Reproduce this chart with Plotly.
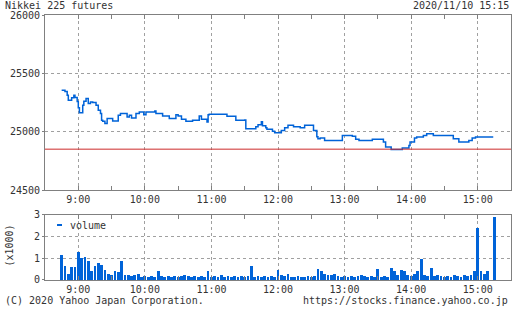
import plotly.graph_objects as go
import pandas as pd

DAY = "2020-11-10 "

# Price (step line) - time, price
price_times = ["08:45", "08:48", "08:50", "08:51", "08:54", "08:56", "08:57", "08:59", "09:00", "09:01",
               "09:04", "09:05", "09:07", "09:09", "09:11", "09:13", "09:16", "09:18", "09:20", "09:21",
               "09:22", "09:24", "09:26", "09:31", "09:36", "09:38", "09:44", "09:46", "09:48", "09:52",
               "09:55", "09:59", "10:01", "10:09", "10:10", "10:16", "10:22", "10:28", "10:30", "10:33",
               "10:37", "10:43", "10:49", "10:51", "10:56", "10:57", "10:58", "11:14", "11:22", "11:30",
               "11:31", "11:40", "11:42", "11:45", "11:46", "11:49", "11:50", "11:55", "11:57", "12:03",
               "12:06", "12:09", "12:14", "12:20", "12:24", "12:32", "12:35", "12:36", "12:38", "12:42",
               "12:58", "13:07", "13:10", "13:13", "13:25", "13:35", "13:37", "13:42", "13:52", "13:58",
               "13:59", "14:03", "14:05", "14:11", "14:14", "14:20", "14:38", "14:43", "14:52", "14:55",
               "14:58", "15:14"]
price_values = [25355, 25344, 25312, 25269, 25290, 25312, 25292, 25258, 25206, 25163,
                25226, 25261, 25284, 25241, 25255, 25250, 25226, 25183, 25155, 25097,
                25089, 25069, 25112, 25092, 25140, 25155, 25126, 25140, 25118, 25155,
                25169, 25146, 25169, 25178, 25155, 25135, 25112, 25146, 25135, 25106,
                25089, 25097, 25135, 25106, 25083, 25146, 25150, 25133, 25097, 25100,
                25026, 25043, 25060, 25086, 25050, 25034, 25020, 25003, 24991, 25010,
                25034, 25054, 25043, 25034, 25054, 25011, 24957, 24940, 24945, 24925,
                24968, 24960, 24934, 24925, 24934, 24911, 24868, 24848, 24860, 24882,
                24911, 24946, 24954, 24968, 24983, 24968, 24940, 24911, 24925, 24946,
                24954, 24954]

prev_close = 24850

# Volume (x1000), 3-minute buckets from 08:45 to 15:15
volume_values = [
    1.14, 0.63, 0.30, 0.60, 0.58, 1.27, 1.00, 1.08, 0.87, 0.40,
    0.63, 0.80, 0.67, 0.48, 0.30, 0.25, 0.40, 0.36, 0.87, 0.22,
    0.25, 0.20, 0.22, 0.30, 0.15, 0.18, 0.15, 0.20, 0.15, 0.43,
    0.20, 0.15, 0.20, 0.15, 0.18, 0.15, 0.20, 0.25, 0.20, 0.15,
    0.18, 0.15, 0.20, 0.15, 0.43, 0.15, 0.20, 0.15, 0.25, 0.15,
    0.18, 0.15, 0.20, 0.15, 0.18, 0.15, 0.20, 0.63, 0.15, 0.20,
    0.15, 0.18, 0.15, 0.20, 0.15, 0.48, 0.25, 0.20, 0.30, 0.15,
    0.15, 0.18, 0.15, 0.15, 0.20, 0.15, 0.18, 0.52, 0.40, 0.30,
    0.25, 0.25, 0.30, 0.20, 0.15, 0.20, 0.15, 0.20, 0.15, 0.20,
    0.25, 0.20, 0.15, 0.20, 0.15, 0.52, 0.15, 0.20, 0.15, 0.55,
    0.43, 0.25, 0.48, 0.40, 0.25, 0.20, 0.30, 0.43, 0.95, 0.25,
    0.20, 0.55, 0.20, 0.25, 0.20, 0.15, 0.20, 0.15, 0.25, 0.20,
    0.15, 0.25, 0.20, 0.25, 0.40, 2.38, 0.40, 0.30, 0.40, 0.00,
    2.90]
volume_times = pd.date_range(DAY + "08:45", periods=len(volume_values), freq="3min")

title_text = "Nikkei 225 futures"
stamp_text = "2020/11/10 15:15"
copy_text = "(C) 2020 Yahoo Japan Corporation."
url_text = "https://stocks.finance.yahoo.co.jp"

FONT = "DejaVu Sans Mono"
TXT = "#333333"
BLUE = "#0063d8"
FRAME = "#808080"
GRID = "#a0a0a0"

fig = go.Figure()
fig.add_trace(go.Scatter(
    x=[DAY + t for t in price_times], y=price_values, mode="lines",
    line=dict(color=BLUE, width=1.5, shape="hv"), showlegend=False,
    xaxis="x", yaxis="y"))
fig.add_trace(go.Bar(
    x=volume_times, y=volume_values, width=150000,
    marker=dict(color=BLUE, line=dict(width=0)), showlegend=False,
    xaxis="x2", yaxis="y2"))

xr = [DAY + "08:30", DAY + "15:30"]
xcommon = dict(type="date", range=xr, tickformat="%-H:%M", dtick=3600000,
               tick0=DAY + "09:00", showgrid=True, gridcolor=GRID, griddash="3px,3px",
               gridwidth=1, showline=True, linecolor=FRAME, linewidth=1, mirror="ticks",
               ticks="inside", ticklen=4, tickcolor=FRAME,
               minor=dict(dtick=1800000, ticks="inside", ticklen=4, tickcolor=FRAME, showgrid=False),
               tickfont=dict(family=FONT, size=10, color=TXT), zeroline=False, fixedrange=True)
ycommon = dict(showgrid=True, gridcolor=GRID, griddash="3px,3px", gridwidth=1,
               showline=True, linecolor=FRAME, linewidth=1, mirror=True,
               ticks="outside", ticklen=2, tickcolor=FRAME, tickformat="d",
               tickfont=dict(family=FONT, size=10, color=TXT), zeroline=False)

fig.update_layout(
    width=512, height=310,
    margin=dict(l=45, r=1, t=15, b=30),
    paper_bgcolor="white", plot_bgcolor="white",
    xaxis=dict(domain=[0, 1], anchor="y", **xcommon),
    yaxis=dict(domain=[0.3396, 1], range=[24500, 26000], dtick=500, anchor="x", **ycommon),
    xaxis2=dict(domain=[0, 1], anchor="y2", **xcommon),
    yaxis2=dict(domain=[0, 0.2453], range=[0, 3], dtick=1, anchor="x2", **ycommon),
    bargap=0,
    shapes=[
        dict(type="line", xref="x", yref="y", x0=xr[0], x1=xr[1], y0=prev_close, y1=prev_close,
             line=dict(color="#cc2a2a", width=1)),
        dict(type="line", xref="paper", yref="paper", x0=0.0258, x1=0.0365, y0=0.2075, y1=0.2075,
             line=dict(color=BLUE, width=2)),
    ],
    annotations=[
        dict(text=title_text, xref="paper", yref="paper", x=-0.0901, y=1.034,
             xanchor="left", yanchor="middle", showarrow=False,
             font=dict(family=FONT, size=10, color=TXT)),
        dict(text=stamp_text, xref="paper", yref="paper", x=1.0, y=1.034,
             xanchor="right", yanchor="middle", showarrow=False,
             font=dict(family=FONT, size=10, color=TXT)),
        dict(text=copy_text, xref="paper", yref="paper", x=-0.0901, y=-0.0792,
             xanchor="left", yanchor="middle", showarrow=False,
             font=dict(family=FONT, size=10, color=TXT)),
        dict(text=url_text, xref="paper", yref="paper", x=0.998, y=-0.0792,
             xanchor="right", yanchor="middle", showarrow=False,
             font=dict(family=FONT, size=10, color=TXT)),
        dict(text="volume", xref="paper", yref="paper", x=0.0494, y=0.2075,
             xanchor="left", yanchor="middle", showarrow=False,
             font=dict(family=FONT, size=10, color=TXT)),
        dict(text="(x1000)", xref="paper", yref="paper", x=-0.075, y=0.13,
             xanchor="center", yanchor="middle", showarrow=False, textangle=-90,
             font=dict(family=FONT, size=10, color=TXT)),
    ],
)

fig.write_html("out.html")
